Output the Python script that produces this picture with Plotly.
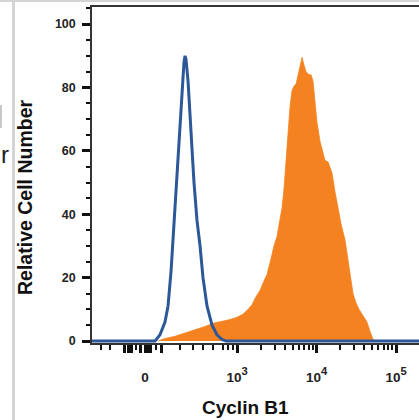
import math
import plotly.graph_objects as go

# Display axis is in "decades" (biexponential-like): 3 -> 10^3, 4 -> 10^4, 5 -> 10^5, 1.843 -> 0
blue_x = [1.10, 1.969, 2.031, 2.094, 2.132, 2.170, 2.195, 2.233, 2.270, 2.308, 2.333, 2.346,
          2.358, 2.384, 2.421, 2.459, 2.497, 2.535, 2.572, 2.623, 2.686, 2.748, 2.811, 2.862, 5.40]
blue_y = [0, 0, 2, 6, 11, 22, 32, 48, 65, 80, 88, 90,
          89, 82, 66, 50, 38, 30, 20, 11, 5, 2, 0.5, 0, 0]

orange_x = [2.006, 2.094, 2.220, 2.346, 2.472, 2.597, 2.698, 2.786, 2.912, 3.000, 3.075, 3.138,
            3.189, 3.239, 3.289, 3.340, 3.377, 3.428, 3.465, 3.503, 3.541, 3.566, 3.591, 3.604,
            3.616, 3.629, 3.654, 3.667, 3.692, 3.717, 3.742, 3.767, 3.792, 3.818, 3.843, 3.868,
            3.906, 3.931, 3.956, 3.981, 4.006, 4.044, 4.082, 4.107, 4.145, 4.170, 4.195, 4.233,
            4.270, 4.308, 4.358, 4.396, 4.421, 4.459, 4.497, 4.535, 4.585, 4.635, 4.673, 4.711, 4.748]
orange_y = [0, 0.8, 1.5, 2.5, 3.5, 4.6, 5.6, 6.0, 6.8, 7.5, 8.5, 10,
            11.5, 14, 16, 19, 21, 26, 30, 33, 38, 42, 48, 53,
            58, 63, 70, 74, 79, 80.5, 81, 84, 87, 89.5, 87, 85,
            84, 84, 82, 74, 69, 63, 59, 57, 56.5, 55, 53, 47,
            42, 37, 32, 26, 21, 15, 12, 10, 8, 6, 3, 0.5, 0]

x_tick_vals = [1.591, 1.629, 1.667, 1.792, 1.843, 1.881, 1.918, 2.044, 3, 4, 5]
sup = "<span style='font-size:16px'><sup>{}</sup></span>"
x_tick_text = ["", "", "", "", "0", "", "", "",
               "10" + sup.format(3), "10" + sup.format(4), "10" + sup.format(5)]
x_minor_linear = [1.289, 1.403, 1.730, 1.981, 2.283, 2.447, 2.572, 2.698, 2.824, 2.887, 2.950]
x_minor_log = [d + math.log10(k) for d in (3, 4) for k in range(2, 10)]

y_tick_vals = [0, 20, 40, 60, 80, 100]

fig = go.Figure()
fig.add_trace(go.Scatter(x=orange_x, y=orange_y, mode="lines", fill="tozeroy",
                         fillcolor="#f58220", line=dict(color="#f58220", width=0.8),
                         hoverinfo="skip", showlegend=False))
fig.add_trace(go.Scatter(x=blue_x, y=blue_y, mode="lines",
                         line=dict(color="#2c5898", width=3),
                         hoverinfo="skip", showlegend=False))

fig.update_layout(
    width=419, height=420,
    margin=dict(l=92, r=0, t=7, b=77),
    paper_bgcolor="white", plot_bgcolor="white",
    font=dict(family="Liberation Sans, Arial, sans-serif", color="#222"),
    xaxis=dict(range=[1.176, 5.289], showgrid=False, zeroline=False,
               showline=True, linecolor="#333", linewidth=1.5, mirror=True,
               tickmode="array", tickvals=x_tick_vals, ticktext=x_tick_text,
               ticks="outside", ticklen=8, tickwidth=3, tickcolor="#111",
               ticklabelstandoff=13,
               tickfont=dict(size=13.5, color="#222", weight="bold"),
               minor=dict(tickmode="array", tickvals=x_minor_linear + x_minor_log,
                          ticks="outside", ticklen=5, tickwidth=2, tickcolor="#111")),
    yaxis=dict(range=[-0.6, 105.4], showgrid=False, zeroline=False,
               showline=True, linecolor="#333", linewidth=1.5,
               tickmode="array", tickvals=y_tick_vals,
               ticks="outside", ticklen=8, tickwidth=3, tickcolor="#111",
               ticklabelstandoff=4,
               tickfont=dict(size=12.5, color="#222", weight="bold"),
               minor=dict(dtick=5, ticks="outside", ticklen=4, tickwidth=2, tickcolor="#111")),
    annotations=[
        dict(text="<b>Cyclin B1</b>", xref="paper", yref="paper", x=0.468, y=-0.193,
             showarrow=False, font=dict(size=19, color="#111"), xanchor="center", yanchor="middle"),
        dict(text="<b>Relative Cell Number</b>", xref="paper", yref="paper", x=-0.205, y=0.4345,
             showarrow=False, textangle=-90, font=dict(size=19.5, color="#111"),
             xanchor="center", yanchor="middle"),
        dict(text="r", xref="paper", yref="paper", x=-0.266, y=0.56, showarrow=False,
             font=dict(size=24, color="#222"), xanchor="center", yanchor="middle"),
    ],
    shapes=[
        dict(type="rect", xref="paper", yref="paper", x0=-0.2446, x1=-0.2355, y0=-0.229, y1=1.021,
             fillcolor="#d4d4d4", line=dict(width=0)),
        dict(type="rect", xref="paper", yref="paper", x0=-0.2813, x1=1.0, y0=1.0149, y1=1.021,
             fillcolor="#d4d4d4", line=dict(width=0)),
        dict(type="rect", xref="paper", yref="paper", x0=-0.2813, x1=-0.2752, y0=0.640, y1=0.708,
             fillcolor="#c8c8c8", line=dict(width=0)),
    ],
)

fig.write_html("out.html", config={"displayModeBar": False},
               post_script="document.body.style.margin='0';document.body.style.overflow='hidden';")
